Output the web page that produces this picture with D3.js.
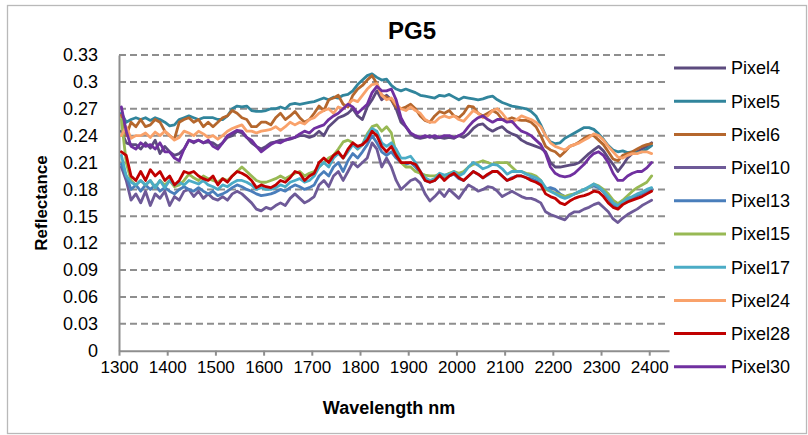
<!DOCTYPE html>
<html>
<head>
<meta charset="utf-8">
<script src="https://cdn.jsdelivr.net/npm/d3@7/dist/d3.min.js"></script>
<style>
  html, body { margin: 0; padding: 0; background: #fff; }
  svg { display: block; }
  text { font-family: "Liberation Sans", Arial, sans-serif; fill: #000; }
</style>
</head>
<body>
<svg id="chart" width="808" height="435"></svg>
<script>
// ---------- DATA ----------
const title = "PG5";
const xTitle = "Wavelength nm";
const yTitle = "Reflectance";
const xTicks = [1300, 1400, 1500, 1600, 1700, 1800, 1900, 2000, 2100, 2200, 2300, 2400];
const yTicks = [0, 0.03, 0.06, 0.09, 0.12, 0.15, 0.18, 0.21, 0.24, 0.27, 0.3, 0.33];
const yTickLabels = ["0", "0.03", "0.06", "0.09", "0.12", "0.15", "0.18", "0.21", "0.24", "0.27", "0.3", "0.33"];
const wavelengths = d3.range(1305, 2406, 10); // 111 sampled wavelengths

const pixel4 = [
  0.245,0.232,0.230,0.230,0.225,0.232,0.226,0.235,0.220,0.228,
  0.222,0.218,0.220,0.225,0.235,0.232,0.235,0.232,0.233,0.232,
  0.228,0.232,0.238,0.240,0.245,0.243,0.238,0.232,0.228,0.225,
  0.228,0.232,0.233,0.235,0.235,0.236,0.238,0.240,0.240,0.238,
  0.240,0.245,0.240,0.250,0.255,0.260,0.262,0.265,0.270,0.262,
  0.258,0.272,0.280,0.290,0.280,0.285,0.280,0.270,0.255,0.250,
  0.242,0.238,0.237,0.238,0.240,0.237,0.238,0.237,0.238,0.237,
  0.240,0.238,0.242,0.248,0.252,0.253,0.248,0.245,0.248,0.250,
  0.245,0.242,0.240,0.235,0.232,0.230,0.228,0.226,0.222,0.210,
  0.205,0.205,0.206,0.207,0.208,0.210,0.215,0.220,0.224,0.228,
  0.223,0.215,0.208,0.200,0.207,0.215,0.220,0.222,0.225,0.228,
  0.232];
const pixel5 = [
  0.265,0.255,0.258,0.260,0.258,0.260,0.257,0.260,0.258,0.255,
  0.251,0.252,0.258,0.260,0.262,0.260,0.258,0.260,0.260,0.260,
  0.258,0.258,0.262,0.270,0.273,0.272,0.273,0.268,0.267,0.267,
  0.268,0.270,0.270,0.272,0.270,0.275,0.276,0.275,0.276,0.277,
  0.278,0.280,0.282,0.280,0.283,0.282,0.285,0.286,0.290,0.297,
  0.302,0.307,0.309,0.305,0.302,0.303,0.296,0.292,0.290,0.292,
  0.290,0.288,0.285,0.284,0.283,0.282,0.285,0.284,0.286,0.283,
  0.280,0.283,0.282,0.281,0.280,0.281,0.283,0.284,0.280,0.277,
  0.275,0.273,0.272,0.271,0.270,0.267,0.262,0.252,0.240,0.233,
  0.231,0.232,0.237,0.240,0.243,0.246,0.249,0.249,0.247,0.242,
  0.236,0.229,0.224,0.222,0.223,0.221,0.222,0.221,0.222,0.225,
  0.229];
const pixel6 = [
  0.263,0.240,0.255,0.250,0.258,0.250,0.252,0.258,0.255,0.245,
  0.240,0.236,0.255,0.258,0.260,0.255,0.258,0.250,0.255,0.250,
  0.255,0.260,0.262,0.268,0.265,0.260,0.258,0.250,0.250,0.255,
  0.255,0.252,0.260,0.265,0.258,0.262,0.267,0.260,0.255,0.258,
  0.265,0.273,0.268,0.280,0.282,0.285,0.275,0.272,0.285,0.292,
  0.296,0.302,0.307,0.298,0.285,0.283,0.280,0.272,0.270,0.272,
  0.275,0.270,0.262,0.257,0.255,0.262,0.267,0.265,0.268,0.262,
  0.260,0.265,0.273,0.272,0.265,0.262,0.265,0.268,0.265,0.258,
  0.258,0.260,0.258,0.257,0.257,0.255,0.250,0.240,0.228,0.224,
  0.222,0.217,0.222,0.228,0.230,0.233,0.237,0.240,0.240,0.235,
  0.230,0.222,0.214,0.212,0.218,0.220,0.222,0.225,0.228,0.230,
  0.231];
const pixel10 = [
  0.205,0.190,0.168,0.175,0.165,0.178,0.162,0.175,0.170,0.178,
  0.162,0.172,0.168,0.178,0.180,0.172,0.178,0.170,0.175,0.170,
  0.168,0.172,0.168,0.175,0.178,0.175,0.170,0.165,0.158,0.156,
  0.160,0.158,0.162,0.165,0.162,0.170,0.175,0.170,0.165,0.168,
  0.172,0.185,0.190,0.183,0.195,0.200,0.190,0.200,0.210,0.205,
  0.210,0.215,0.232,0.225,0.205,0.215,0.205,0.190,0.180,0.185,
  0.190,0.192,0.187,0.175,0.167,0.172,0.178,0.172,0.180,0.175,
  0.170,0.178,0.185,0.182,0.178,0.180,0.183,0.182,0.178,0.172,
  0.175,0.178,0.175,0.172,0.170,0.170,0.168,0.165,0.155,0.152,
  0.150,0.148,0.146,0.152,0.155,0.155,0.158,0.160,0.163,0.165,
  0.160,0.155,0.147,0.143,0.148,0.152,0.155,0.158,0.162,0.165,
  0.168];
const pixel13 = [
  0.208,0.195,0.180,0.185,0.178,0.185,0.180,0.185,0.178,0.182,
  0.178,0.175,0.180,0.183,0.180,0.178,0.182,0.178,0.175,0.178,
  0.173,0.175,0.178,0.182,0.185,0.183,0.180,0.178,0.175,0.173,
  0.174,0.175,0.177,0.180,0.178,0.182,0.185,0.183,0.180,0.182,
  0.185,0.195,0.200,0.195,0.205,0.210,0.200,0.212,0.220,0.215,
  0.222,0.230,0.240,0.232,0.222,0.218,0.222,0.215,0.210,0.208,
  0.210,0.205,0.198,0.190,0.188,0.190,0.195,0.192,0.195,0.197,
  0.192,0.190,0.195,0.200,0.197,0.193,0.196,0.200,0.200,0.195,
  0.190,0.193,0.195,0.195,0.193,0.192,0.190,0.186,0.180,0.182,
  0.180,0.175,0.172,0.173,0.175,0.177,0.179,0.182,0.184,0.182,
  0.177,0.170,0.163,0.160,0.164,0.168,0.170,0.173,0.175,0.178,
  0.180];
const pixel15 = [
  0.258,0.210,0.190,0.185,0.190,0.185,0.190,0.182,0.190,0.185,
  0.190,0.183,0.185,0.190,0.197,0.193,0.190,0.195,0.192,0.190,
  0.188,0.192,0.190,0.195,0.200,0.205,0.200,0.195,0.190,0.188,
  0.188,0.190,0.192,0.195,0.192,0.195,0.198,0.200,0.195,0.198,
  0.200,0.205,0.210,0.215,0.218,0.225,0.233,0.235,0.232,0.225,
  0.230,0.242,0.250,0.252,0.245,0.250,0.243,0.220,0.210,0.205,
  0.205,0.200,0.198,0.196,0.195,0.195,0.197,0.195,0.198,0.200,
  0.198,0.200,0.205,0.208,0.210,0.212,0.210,0.208,0.210,0.210,
  0.210,0.205,0.200,0.200,0.198,0.197,0.195,0.190,0.180,0.178,
  0.176,0.174,0.172,0.174,0.175,0.177,0.180,0.182,0.186,0.184,
  0.180,0.175,0.168,0.164,0.168,0.173,0.178,0.182,0.185,0.188,
  0.195];
const pixel17 = [
  0.218,0.195,0.188,0.185,0.190,0.185,0.190,0.182,0.190,0.182,
  0.190,0.185,0.188,0.185,0.190,0.188,0.186,0.190,0.185,0.183,
  0.180,0.185,0.183,0.187,0.190,0.190,0.188,0.185,0.180,0.182,
  0.180,0.180,0.182,0.185,0.183,0.188,0.190,0.192,0.188,0.190,
  0.195,0.205,0.210,0.205,0.215,0.220,0.215,0.222,0.230,0.225,
  0.230,0.240,0.248,0.245,0.232,0.228,0.232,0.225,0.215,0.215,
  0.217,0.210,0.200,0.193,0.190,0.192,0.198,0.196,0.197,0.200,
  0.195,0.198,0.205,0.210,0.207,0.203,0.205,0.208,0.207,0.203,
  0.197,0.200,0.200,0.200,0.197,0.195,0.193,0.190,0.182,0.178,
  0.175,0.172,0.170,0.172,0.175,0.178,0.180,0.183,0.186,0.183,
  0.178,0.172,0.165,0.162,0.166,0.170,0.172,0.175,0.177,0.180,
  0.182];
const pixel24 = [
  0.240,0.250,0.237,0.240,0.240,0.243,0.238,0.244,0.240,0.245,
  0.240,0.235,0.238,0.245,0.243,0.240,0.245,0.242,0.238,0.240,
  0.236,0.240,0.245,0.248,0.250,0.252,0.245,0.245,0.243,0.245,
  0.246,0.247,0.250,0.246,0.250,0.255,0.252,0.255,0.253,0.258,
  0.260,0.265,0.268,0.270,0.265,0.272,0.270,0.275,0.280,0.278,
  0.285,0.292,0.297,0.298,0.285,0.280,0.282,0.275,0.270,0.268,
  0.272,0.268,0.265,0.258,0.255,0.255,0.260,0.262,0.260,0.262,
  0.258,0.256,0.262,0.268,0.265,0.260,0.262,0.268,0.270,0.265,
  0.258,0.255,0.258,0.262,0.260,0.258,0.255,0.250,0.240,0.232,
  0.228,0.226,0.224,0.228,0.230,0.232,0.235,0.238,0.242,0.240,
  0.235,0.228,0.222,0.216,0.215,0.218,0.220,0.220,0.222,0.222,
  0.220];
const pixel28 = [
  0.222,0.218,0.195,0.190,0.200,0.190,0.202,0.195,0.200,0.190,
  0.195,0.185,0.190,0.200,0.198,0.200,0.195,0.192,0.190,0.195,
  0.185,0.192,0.188,0.195,0.200,0.198,0.195,0.190,0.182,0.185,
  0.183,0.182,0.185,0.190,0.188,0.193,0.200,0.198,0.190,0.195,
  0.198,0.210,0.215,0.210,0.218,0.222,0.215,0.225,0.232,0.228,
  0.230,0.235,0.245,0.240,0.228,0.222,0.228,0.218,0.210,0.210,
  0.210,0.208,0.200,0.190,0.188,0.190,0.196,0.190,0.195,0.198,
  0.193,0.190,0.195,0.200,0.197,0.193,0.197,0.200,0.200,0.195,
  0.190,0.192,0.195,0.195,0.193,0.190,0.188,0.185,0.175,0.172,
  0.170,0.165,0.163,0.167,0.170,0.172,0.173,0.175,0.178,0.177,
  0.172,0.165,0.160,0.158,0.163,0.166,0.168,0.170,0.172,0.175,
  0.178];
const pixel30 = [
  0.272,0.245,0.228,0.225,0.232,0.228,0.230,0.225,0.232,0.222,
  0.222,0.215,0.212,0.225,0.235,0.233,0.235,0.232,0.235,0.228,
  0.225,0.232,0.240,0.243,0.246,0.245,0.238,0.235,0.228,0.222,
  0.226,0.230,0.233,0.232,0.235,0.237,0.238,0.242,0.245,0.243,
  0.248,0.250,0.252,0.258,0.262,0.265,0.270,0.275,0.272,0.265,
  0.270,0.275,0.288,0.295,0.290,0.290,0.292,0.280,0.260,0.250,
  0.243,0.240,0.238,0.240,0.238,0.240,0.238,0.240,0.240,0.238,
  0.240,0.243,0.250,0.256,0.260,0.262,0.258,0.255,0.258,0.258,
  0.255,0.256,0.250,0.245,0.243,0.240,0.235,0.230,0.220,0.205,
  0.198,0.195,0.194,0.195,0.198,0.203,0.208,0.215,0.220,0.222,
  0.218,0.210,0.198,0.190,0.190,0.195,0.198,0.200,0.200,0.204,
  0.210];

const seriesNames = ["Pixel4", "Pixel5", "Pixel6", "Pixel10", "Pixel13", "Pixel15", "Pixel17", "Pixel24", "Pixel28", "Pixel30"];
const seriesValues = [pixel4, pixel5, pixel6, pixel10, pixel13, pixel15, pixel17, pixel24, pixel28, pixel30];
const seriesColors = ["#5C4B7E", "#31859C", "#B5672D", "#6E5A98", "#4A7EBB", "#98B954", "#4BACC6", "#F9A26B", "#C00000", "#7030A0"];

// ---------- CHART ----------
const svg = d3.select("#chart");
const plot = { left: 119, right: 669, top: 55, bottom: 350.7 };

const x = d3.scaleLinear().domain([1300, 2441]).range([plot.left, plot.right]);
const y = d3.scaleLinear().domain([0, 0.33]).range([plot.bottom, plot.top]);

// outer border
svg.append("rect")
  .attr("x", 7.5).attr("y", 5.5).attr("width", 799).attr("height", 428)
  .attr("fill", "none").attr("stroke", "#b9b9b9").attr("stroke-width", 1.3);

// gridlines
svg.append("g")
  .selectAll("line")
  .data(yTicks.filter(d => d > 0))
  .join("line")
  .attr("x1", plot.left).attr("x2", plot.right)
  .attr("y1", d => y(d)).attr("y2", d => y(d))
  .attr("stroke", "#8e8e8e").attr("stroke-width", 2)
  .attr("stroke-dasharray", "7,4");

// y axis
const yAxis = d3.axisLeft(y).tickValues(yTicks)
  .tickFormat((d, i) => yTickLabels[i]).tickSize(0).tickPadding(21);
const gy = svg.append("g").attr("transform", `translate(${plot.left},0)`).call(yAxis);
gy.select(".domain").attr("stroke", "#8e8e8e").attr("stroke-width", 2);
gy.selectAll("text").attr("font-size", 18).attr("font-family", "Liberation Sans, Arial, sans-serif").attr("fill", "#000");

// x axis
const xAxis = d3.axisBottom(x).tickValues(xTicks).tickFormat(d3.format("d"))
  .tickSize(5).tickSizeOuter(0).tickPadding(5);
const gx = svg.append("g").attr("transform", `translate(0,${plot.bottom})`).call(xAxis);
gx.select(".domain").attr("stroke", "#8e8e8e").attr("stroke-width", 2);
gx.selectAll(".tick line").attr("stroke", "#8e8e8e").attr("stroke-width", 2);
gx.selectAll("text").attr("font-size", 17).attr("font-family", "Liberation Sans, Arial, sans-serif").attr("fill", "#000");

// lines
const line = d3.line()
  .x((d, i) => x(wavelengths[i]))
  .y(d => y(d))
  .curve(d3.curveLinear);

svg.append("g")
  .selectAll("path")
  .data(seriesValues)
  .join("path")
  .attr("d", d => line(d))
  .attr("fill", "none")
  .attr("stroke", (d, i) => seriesColors[i])
  .attr("stroke-width", 2.8)
  .attr("stroke-linejoin", "round")
  .attr("stroke-linecap", "round");

// title
svg.append("text")
  .attr("x", 412).attr("y", 39)
  .attr("text-anchor", "middle")
  .attr("font-size", 24).attr("font-weight", "bold")
  .text(title);

// x title
svg.append("text")
  .attr("x", 389).attr("y", 414)
  .attr("text-anchor", "middle")
  .attr("font-size", 18).attr("font-weight", "bold")
  .text(xTitle);

// y title
svg.append("text")
  .attr("transform", "translate(47,203) rotate(-90)")
  .attr("text-anchor", "middle")
  .attr("font-size", 17).attr("font-weight", "bold")
  .text(yTitle);

// legend
const legend = svg.append("g");
const leg = legend.selectAll("g")
  .data(seriesNames)
  .join("g")
  .attr("transform", (d, i) => `translate(674,${68 + i * 33.2})`);
leg.append("line")
  .attr("x1", 0).attr("x2", 52).attr("y1", 0).attr("y2", 0)
  .attr("stroke", (d, i) => seriesColors[i]).attr("stroke-width", 3);
leg.append("text")
  .attr("x", 57).attr("y", 0).attr("dy", "0.35em")
  .attr("font-size", 18)
  .text(d => d);
</script>
</body>
</html>
